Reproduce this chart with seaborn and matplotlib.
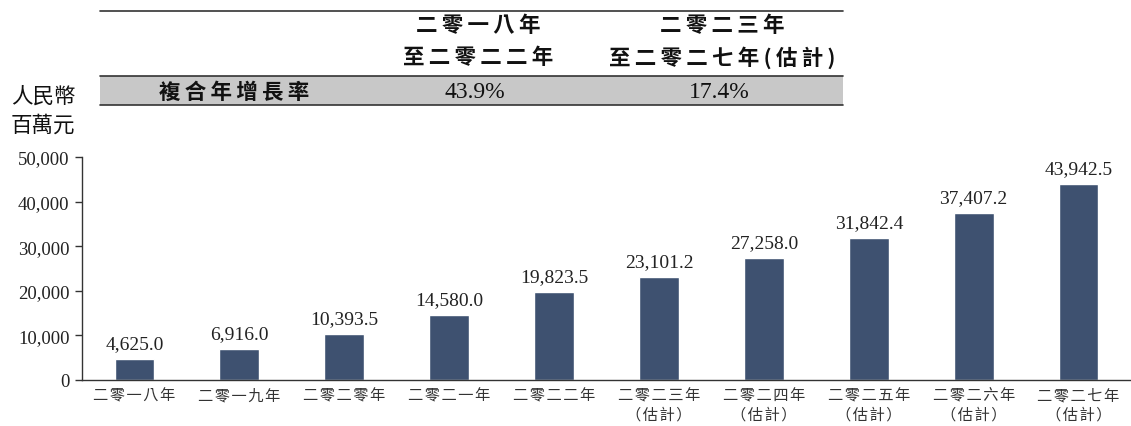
import matplotlib
matplotlib.use("Agg")
import matplotlib.pyplot as plt
import seaborn as sns
import pandas as pd
import numpy as np
from matplotlib.patches import Rectangle
from matplotlib.lines import Line2D

years = ["二零一八年", "二零一九年", "二零二零年", "二零二一年", "二零二二年",
         "二零二三年\n（估計）", "二零二四年\n（估計）", "二零二五年\n（估計）",
         "二零二六年\n（估計）", "二零二七年\n（估計）"]
values = [4625.0, 6916.0, 10393.5, 14580.0, 19823.5,
          23101.2, 27258.0, 31842.4, 37407.2, 43942.5]
yticks = [0, 10000, 20000, 30000, 40000, 50000]
cagr_periods = ["二零一八年\n至二零二二年", "二零二三年\n至二零二七年(估計)"]
cagr_values = ["43.9%", "17.4%"]
cagr_label = "複合年增長率"
unit_label = ["人民幣", "百萬元"]

sns.set_style("white")
FAM = ["Liberation Serif", "Noto Sans CJK TC", "DejaVu Sans"]
CJK = ["Noto Sans CJK TC", "DejaVu Sans"]
plt.rcParams["font.family"] = FAM


def spaced(s, sp):
    return "\n".join(sp.join(list(line)) for line in s.split("\n"))


df = pd.DataFrame({"year": years, "value": values})

fig = plt.figure(figsize=(11.31, 4.27), dpi=100)
ax = fig.add_axes([82 / 1131, 1 - 381 / 427, 1 - 82 / 1131, (381 - 158) / 427])

sns.barplot(data=df, x="year", y="value", color="#3e5170", width=0.38,
            saturation=1, ax=ax)
ax.set_ylim(0, 50000)
ax.set_xlim(-0.5, len(years) - 0.5)
ax.set_yticks(yticks)
ax.set_yticklabels([f"{v:,}" for v in yticks], fontsize=13.5, color="#222222")
ax.set_xlabel("")
ax.set_ylabel("")
ax.set_xticks(range(len(years)))
ax.set_xticklabels([spaced(y, "\u200a") for y in years], fontsize=11,
                   color="#333333", family=CJK, linespacing=1.1)
ax.tick_params(axis="x", which="major", length=0, pad=5)
ax.set_xticks(np.arange(0.5, len(years) - 0.5, 1), minor=True)
ax.tick_params(axis="x", which="minor", direction="in", length=5, width=1, color="#333333")
ax.tick_params(axis="y", direction="out", length=5, width=1, color="#333333", left=True, pad=4)
for s in ["top", "right"]:
    ax.spines[s].set_visible(False)
for s in ["left", "bottom"]:
    ax.spines[s].set_color("#333333")
    ax.spines[s].set_linewidth(1)

for c in ax.containers:
    ax.bar_label(c, labels=[f"{v:,.1f}" for v in values], padding=5,
                 fontsize=14, color="#222222")

# CAGR table
x0, x1 = 100 / 1131, 843 / 1131


def fy(p):
    return 1 - p / 427


fig.add_artist(Line2D([x0, x1], [fy(12), fy(12)], color="#333333", lw=1.2))
fig.add_artist(Rectangle((x0, fy(106)), x1 - x0, fy(77) - fy(106),
                         facecolor="#c8c8c8", edgecolor="none"))
fig.add_artist(Line2D([x0, x1], [fy(77), fy(77)], color="#333333", lw=1.2))
fig.add_artist(Line2D([x0, x1], [fy(106), fy(106)], color="#333333", lw=1.2))

SP = "\u2009"
col_x = [478 / 1131, 722 / 1131]
for cx, per, val in zip(col_x, cagr_periods, cagr_values):
    l1, l2 = per.split("\n")
    fig.text(cx, fy(26), spaced(l1, SP), ha="center", va="center", fontsize=15.5,
             fontweight="bold", family=CJK, color="#111111")
    fig.text(cx, fy(58), spaced(l2, SP), ha="center", va="center", fontsize=15.5,
             fontweight="bold", family=CJK, color="#111111")
    fig.text(cx - 3 / 1131, fy(92), val, ha="center", va="center", fontsize=17,
             family=FAM, color="#111111")
fig.text(234 / 1131, fy(92), spaced(cagr_label, SP), ha="center", va="center",
         fontsize=15.5, fontweight="bold", family=CJK, color="#111111")

fig.text(43 / 1131, fy(97), unit_label[0], ha="center", va="center", fontsize=15.5,
         family=CJK, color="#111111")
fig.text(43 / 1131, fy(126), unit_label[1], ha="center", va="center", fontsize=15.5,
         family=CJK, color="#111111")

fig.savefig("out.png", dpi=100)
